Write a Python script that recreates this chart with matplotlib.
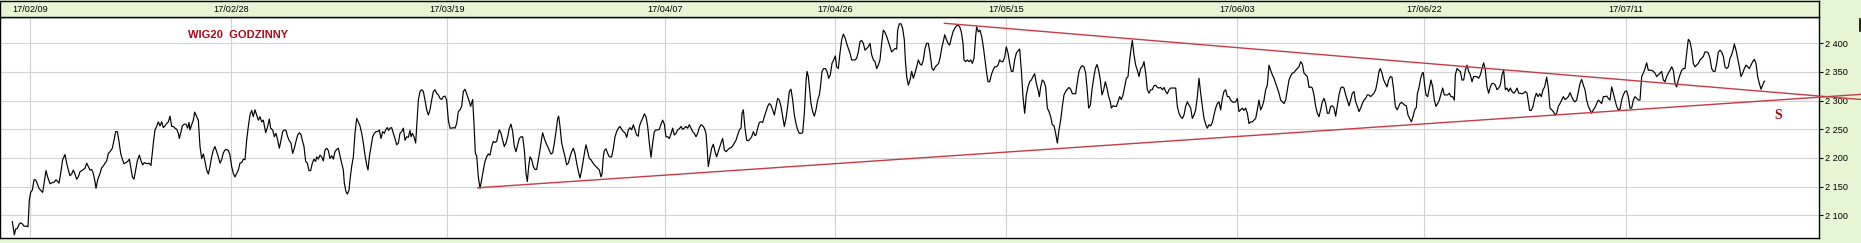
import numpy as np
import matplotlib
matplotlib.use("Agg")
import matplotlib.pyplot as plt
from matplotlib.ticker import FuncFormatter, FixedLocator
from matplotlib.lines import Line2D

plt.rcParams['font.family'] = ['Liberation Sans', 'DejaVu Sans']

# ---------------- data (time index = trading-hour position, price) ----------------
feb_mar = [(37,2089),(43,2066),(47,2076),(52,2077),(58,2085),(62,2087),(67,2085),(72,2081),(80,2081),(84,2080),
 (88,2127),(92,2140),(97,2144),(102,2162),(107,2162),(112,2155),(117,2147),(123,2143),(128,2140),(133,2159),
 (138,2178),(143,2167),(150,2155),(157,2157),(163,2158),(168,2162),(173,2159),(177,2156),(182,2173),(188,2197),
 (195,2206),(200,2191),(205,2179),(210,2169),(215,2172),(220,2179),(225,2172),(230,2163),(235,2167),(240,2176),
 (248,2179),(255,2182),(260,2191),(265,2185),(270,2179),(275,2180),(280,2173),(285,2159),(288,2147),(293,2162),
 (300,2173),(305,2183),(310,2186),(315,2191),(320,2195),(325,2208),(330,2211),(337,2217),(342,2231),(347,2246),
 (352,2246),(357,2229),(362,2208),(367,2198),(372,2190),(378,2192),(383,2194),(388,2198),(392,2185),(397,2167),
 (402,2163),(407,2179),(412,2195),(418,2205),(423,2195),(428,2188),(433,2192),(440,2190),(447,2191),(453,2187),
 (460,2226),(465,2249),(470,2255),(475,2263),(480,2256),(485,2263),(490,2253),(495,2256),(500,2260),(505,2263),
 (510,2273),(515,2255),(520,2255),(525,2252),(530,2250),(535,2243),(538,2234),(542,2243),(547,2256),(553,2259),
 (558,2259),(563,2252),(567,2262),(570,2249),(575,2258),(580,2266),(584,2280),(590,2272),(595,2266),(600,2220),
 (605,2199),(610,2207),(615,2194),(620,2179),(625,2172),(630,2185),(635,2202),(640,2214),(645,2220),(650,2211),
 (655,2202),(660,2191),(665,2197),(670,2209),(675,2214),(680,2215),(685,2213),(690,2205),(695,2185),(700,2173),
 (705,2167),(710,2173),(715,2179),(720,2191),(725,2192),(730,2198),(735,2197),(740,2231),(745,2255),(750,2275),
 (755,2283),(760,2272),(765,2284),(770,2275),(775,2266),(780,2272),(785,2263),(790,2266),(797,2244),(803,2255),
 (808,2268),(812,2252),(818,2249),(823,2237),(828,2243),(833,2231),(838,2217),(843,2231),(848,2246),(853,2249),
 (858,2248),(863,2237),(868,2230),(873,2226),(878,2208),(883,2217),(888,2229),(893,2240),(898,2244),(903,2241),
 (907,2231),(912,2220),(917,2194),(922,2191),(927,2178),(932,2178),(937,2191),(942,2198),(947,2194),(950,2202),
 (955,2198),(960,2205),(965,2202),(970,2195),(975,2214),(980,2217),(985,2213),(990,2199),(995,2204),(1000,2198),
 (1005,2211),(1010,2215),(1015,2217),(1020,2204),(1025,2191),(1030,2179),(1033,2156),(1038,2141),(1042,2137),(1047,2144),
 (1050,2162),(1055,2185),(1060,2202),(1065,2243),(1070,2269),(1075,2263),(1080,2256),(1085,2243),(1090,2226),(1095,2205),
 (1100,2188),(1104,2179),(1108,2202),(1113,2220),(1118,2237),(1123,2243),(1128,2246),(1133,2246),(1138,2249),(1143,2234),
 (1148,2246),(1153,2243),(1157,2249),(1162,2253),(1166,2248),(1170,2252),(1175,2253),(1180,2243),(1185,2234),(1190,2223),
 (1195,2226),(1200,2243),(1205,2246),(1210,2252),(1215,2231),(1220,2237),(1225,2236),(1230,2248),(1233,2237),(1237,2243),
 (1242,2237),(1247,2226),(1250,2255),(1255,2301),(1260,2316),(1265,2319),(1270,2316),(1275,2301),(1280,2284),(1285,2275),
 (1290,2284),(1295,2301),(1300,2316),(1305,2319),(1310,2313),(1315,2310),(1320,2304),(1325,2302),(1330,2307),(1335,2308),
 (1340,2301),(1345,2266),(1350,2252),(1355,2252),(1360,2253),(1365,2252),(1370,2260),(1375,2281),(1380,2284),(1385,2290),
 (1390,2316),(1395,2320)]

mar_may = [(1403,2307),(1408,2298),(1412,2290),(1418,2302),(1422,2260),(1426,2208),(1430,2204),(1435,2167),(1440,2147),
 (1445,2162),(1450,2179),(1455,2194),(1460,2202),(1465,2207),(1470,2205),(1475,2220),(1480,2229),(1485,2227),(1490,2229),
 (1495,2243),(1498,2249),(1503,2243),(1508,2231),(1513,2220),(1518,2226),(1523,2237),(1528,2252),(1533,2259),(1538,2246),
 (1543,2220),(1548,2211),(1553,2223),(1558,2234),(1563,2237),(1568,2237),(1573,2214),(1578,2173),(1582,2159),(1586,2185),
 (1590,2202),(1595,2197),(1600,2185),(1605,2180),(1610,2180),(1615,2197),(1620,2214),(1625,2234),(1628,2244),(1633,2234),
 (1638,2226),(1643,2220),(1648,2213),(1653,2207),(1658,2209),(1663,2226),(1668,2246),(1673,2269),(1676,2273),(1680,2255),
 (1685,2226),(1690,2214),(1695,2202),(1700,2188),(1705,2191),(1710,2202),(1715,2211),(1720,2217),(1725,2208),(1730,2191),
 (1736,2174),(1740,2165),(1745,2179),(1750,2197),(1755,2214),(1758,2223),(1763,2211),(1768,2199),(1773,2197),(1778,2192),
 (1783,2188),(1788,2185),(1793,2182),(1798,2179),(1803,2167),(1806,2172),(1810,2202),(1813,2213),(1818,2216),(1823,2208),
 (1828,2202),(1835,2202),(1840,2217),(1845,2237),(1850,2246),(1855,2252),(1860,2255),(1865,2250),(1870,2246),(1875,2244),
 (1880,2236),(1885,2249),(1890,2253),(1895,2249),(1900,2258),(1905,2249),(1910,2240),(1915,2238),(1918,2255),(1923,2263),
 (1928,2269),(1933,2277),(1938,2272),(1943,2255),(1948,2226),(1953,2201),(1958,2226),(1963,2246),(1968,2249),(1973,2249),
 (1978,2250),(1983,2259),(1988,2266),(1993,2259),(1998,2237),(2003,2237),(2008,2234),(2013,2242),(2018,2252),(2023,2240),
 (2028,2243),(2033,2249),(2038,2251),(2043,2255),(2048,2250),(2053,2252),(2058,2255),(2063,2252),(2068,2258),(2073,2252),
 (2078,2246),(2083,2243),(2088,2237),(2093,2243),(2098,2253),(2103,2258),(2108,2256),(2113,2252),(2118,2243),(2121,2220),
 (2125,2185),(2130,2202),(2135,2217),(2140,2224),(2145,2211),(2150,2202),(2153,2208),(2158,2217),(2163,2226),(2168,2234),
 (2173,2214),(2178,2211),(2183,2214),(2188,2217),(2193,2218),(2198,2221),(2203,2226),(2208,2231),(2213,2240),(2218,2249),
 (2223,2252),(2226,2278),(2230,2284),(2235,2252),(2240,2231),(2245,2230),(2250,2233),(2255,2237),(2260,2246),(2265,2239),
 (2268,2240),(2273,2252),(2278,2262),(2283,2263),(2288,2262),(2293,2272),(2298,2281),(2303,2290),(2308,2295),(2313,2292),
 (2318,2284),(2323,2275),(2328,2290),(2333,2304),(2338,2301),(2343,2290),(2348,2272),(2353,2255),(2358,2269),(2363,2290),
 (2368,2316),(2373,2320),(2378,2301),(2383,2275),(2388,2260),(2393,2249),(2398,2243),(2403,2243),(2408,2244),(2413,2278),
 (2418,2333),(2421,2351),(2425,2342),(2428,2324),(2433,2295),(2438,2281),(2443,2273),(2448,2284),(2453,2301),(2458,2310),
 (2461,2322),(2466,2351),(2471,2356),(2476,2356),(2481,2351),(2486,2339),(2491,2345),(2496,2365),(2501,2371),(2506,2378),
 (2510,2359),(2515,2356),(2520,2383),(2525,2406),(2530,2416),(2535,2410),(2540,2400),(2545,2391),(2550,2383),(2555,2371),
 (2560,2371),(2565,2371),(2570,2374),(2575,2385),(2580,2403),(2585,2405),(2590,2400),(2595,2388),(2600,2391),(2605,2394),
 (2610,2400),(2615,2380),(2620,2371),(2625,2368),(2630,2356),(2635,2362),(2640,2371),(2645,2400),(2650,2423),(2655,2419),
 (2660,2412),(2665,2403),(2670,2394),(2675,2385),(2680,2388),(2685,2391),(2690,2390),(2693,2423),(2698,2434),(2703,2434),
 (2708,2426),(2713,2406),(2716,2371),(2720,2342),(2725,2327),(2730,2336),(2735,2351),(2740,2339),(2745,2348),(2750,2359),
 (2755,2371),(2760,2364),(2765,2362),(2770,2371),(2775,2391),(2780,2400),(2785,2400),(2790,2383),(2796,2356)]

may_jun = [(2801,2353),(2806,2359),(2811,2362),(2816,2365),(2821,2377),(2826,2394),(2831,2406),(2834,2415),(2839,2407),
 (2844,2400),(2849,2397),(2854,2409),(2859,2420),(2864,2426),(2869,2430),(2874,2432),(2879,2429),(2884,2420),(2889,2400),
 (2892,2371),(2897,2368),(2902,2371),(2907,2368),(2912,2371),(2917,2365),(2922,2374),(2927,2412),(2930,2429),(2935,2420),
 (2940,2423),(2945,2412),(2950,2394),(2955,2371),(2960,2348),(2964,2333),(2969,2333),(2974,2345),(2979,2353),(2984,2359),
 (2989,2359),(2994,2362),(2999,2371),(3004,2368),(3009,2368),(3014,2376),(3019,2394),(3024,2383),(3029,2365),(3034,2351),
 (3039,2351),(3044,2371),(3049,2383),(3054,2387),(3059,2390),(3064,2353),(3069,2307),(3074,2278),(3079,2310),(3084,2324),
 (3089,2333),(3094,2336),(3099,2342),(3104,2347),(3109,2330),(3114,2319),(3118,2307),(3122,2324),(3127,2336),(3132,2333),
 (3137,2324),(3142,2287),(3147,2281),(3152,2272),(3157,2258),(3162,2256),(3167,2243),(3172,2226),(3177,2249),(3182,2266),
 (3187,2290),(3192,2310),(3197,2316),(3202,2320),(3207,2323),(3212,2320),(3217,2312),(3222,2312),(3227,2312),(3232,2333),
 (3237,2351),(3242,2358),(3247,2361),(3252,2359),(3257,2348),(3262,2316),(3266,2287),(3271,2292),(3276,2319),(3281,2339),
 (3286,2356),(3291,2363),(3296,2353),(3301,2336),(3306,2310),(3311,2319),(3316,2333),(3321,2322),(3326,2307),(3331,2298),
 (3334,2287),(3339,2291),(3344,2290),(3349,2290),(3354,2298),(3359,2307),(3364,2302),(3369,2310),(3374,2324),(3379,2339),
 (3384,2342),(3389,2371),(3394,2394),(3397,2405),(3402,2380),(3407,2362),(3412,2353),(3417,2342),(3422,2356),(3427,2359),
 (3432,2368),(3437,2348),(3442,2319),(3447,2313),(3452,2319),(3457,2319),(3462,2326),(3467,2327),(3472,2323),(3477,2322),
 (3482,2323),(3487,2319),(3492,2323),(3497,2316),(3502,2312),(3507,2319),(3512,2322),(3517,2322),(3522,2322),(3527,2322),
 (3532,2290),(3537,2278),(3542,2272),(3547,2269),(3552,2275),(3557,2290),(3562,2298),(3567,2292),(3572,2287),(3577,2269),
 (3582,2275),(3587,2284),(3592,2307),(3597,2339),(3602,2313),(3607,2290),(3612,2269),(3617,2259),(3622,2252),(3627,2258),
 (3632,2256),(3637,2262),(3642,2275),(3647,2287),(3652,2295),(3657,2298),(3662,2284),(3667,2304),(3672,2316),(3677,2319),
 (3682,2307),(3687,2307),(3692,2301),(3697,2298),(3702,2297),(3707,2298),(3712,2304),(3717,2281),(3722,2284),(3727,2287),
 (3732,2283),(3737,2287),(3742,2278),(3747,2260),(3752,2263),(3757,2263),(3762,2266),(3767,2269),(3772,2284),(3777,2301),
 (3782,2284),(3787,2290),(3792,2301),(3797,2319),(3802,2327),(3807,2362),(3812,2353),(3817,2345),(3822,2339),(3827,2330),
 (3832,2322),(3837,2313),(3842,2301),(3847,2298),(3852,2295),(3857,2301),(3862,2319),(3867,2336),(3872,2343),(3877,2348),
 (3882,2349),(3887,2353),(3892,2356),(3897,2359),(3902,2368),(3907,2364),(3912,2348),(3917,2345),(3922,2342),(3927,2323),
 (3932,2324),(3937,2322),(3942,2310),(3947,2290),(3952,2278),(3957,2272),(3962,2284),(3967,2298),(3972,2304),(3977,2295),
 (3982,2278),(3987,2278),(3992,2290),(3997,2291),(4002,2287),(4007,2273),(4012,2292),(4017,2310),(4022,2322),(4027,2324),
 (4032,2322),(4037,2310),(4042,2301),(4047,2291),(4052,2301),(4057,2313),(4062,2316),(4067,2298),(4072,2290),(4077,2281),
 (4082,2287),(4087,2295),(4092,2301),(4097,2304),(4102,2310),(4107,2310),(4112,2307),(4117,2310),(4122,2313),(4127,2319),
 (4132,2333),(4137,2351),(4141,2356),(4146,2348),(4151,2336),(4156,2330),(4161,2324),(4166,2336),(4171,2342),(4176,2341),
 (4181,2319),(4186,2290),(4191,2284),(4194,2287)]

jun_jul = [(4199,2294),(4204,2297),(4209,2295),(4214,2292),(4219,2291),(4224,2275),(4229,2269),(4234,2263),(4239,2272),
 (4244,2284),(4249,2288),(4252,2312),(4257,2323),(4262,2339),(4267,2348),(4270,2349),(4274,2327),(4278,2310),(4283,2307),
 (4288,2322),(4293,2336),(4298,2324),(4303,2301),(4308,2290),(4313,2295),(4318,2301),(4323,2312),(4328,2322),(4333,2310),
 (4338,2310),(4343,2310),(4348,2313),(4353,2307),(4358,2307),(4363,2301),(4366,2345),(4371,2356),(4376,2353),(4381,2351),
 (4386,2336),(4391,2336),(4396,2353),(4401,2362),(4406,2351),(4411,2345),(4416,2333),(4421,2342),(4426,2342),(4431,2342),
 (4436,2339),(4441,2345),(4446,2356),(4451,2366),(4456,2353),(4461,2324),(4466,2313),(4471,2324),(4476,2330),(4481,2330),
 (4486,2327),(4491,2319),(4496,2322),(4501,2327),(4506,2345),(4511,2353),(4516,2319),(4521,2322),(4526,2316),(4531,2322),
 (4536,2316),(4541,2313),(4546,2316),(4551,2322),(4556,2313),(4561,2313),(4566,2312),(4571,2313),(4576,2316),(4581,2313),
 (4586,2295),(4589,2283),(4594,2283),(4599,2290),(4604,2304),(4609,2313),(4614,2307),(4619,2312),(4624,2307),(4629,2319),
 (4634,2324),(4640,2341),(4645,2322),(4650,2287),(4655,2284),(4660,2281),(4665,2275),(4670,2278),(4675,2290),(4680,2295),
 (4685,2301),(4690,2307),(4695,2302),(4700,2304),(4705,2307),(4710,2314),(4715,2307),(4720,2301),(4725,2298),(4730,2301),
 (4735,2316),(4740,2330),(4745,2337),(4750,2327),(4755,2319),(4760,2301),(4765,2290),(4770,2284),(4775,2278),(4780,2284),
 (4785,2288),(4790,2295),(4795,2301),(4800,2298),(4805,2295),(4810,2307),(4815,2307),(4820,2308),(4825,2304),(4830,2301),
 (4835,2324),(4840,2313),(4845,2301),(4850,2290),(4855,2284),(4860,2285),(4865,2301),(4870,2310),(4875,2316),(4880,2317),
 (4885,2307),(4890,2287),(4895,2287),(4900,2301),(4905,2307),(4910,2304),(4915,2301),(4920,2301),(4925,2342),(4930,2348),
 (4935,2356),(4940,2366),(4945,2353),(4950,2353),(4955,2353),(4960,2351),(4965,2348),(4970,2342),(4975,2345),(4980,2348),
 (4985,2351),(4990,2336),(4995,2333),(5000,2342),(5005,2348),(5010,2353),(5015,2359),(5020,2353),(5025,2330),(5030,2324),
 (5035,2336),(5040,2345),(5045,2353),(5050,2356),(5055,2356),(5060,2383),(5065,2407),(5070,2403),(5075,2388),(5080,2365),
 (5085,2359),(5090,2362),(5095,2365),(5100,2371),(5105,2374),(5110,2377),(5115,2385),(5120,2385),(5125,2383),(5130,2374),
 (5135,2356),(5140,2351),(5145,2351),(5150,2365),(5155,2385),(5160,2388),(5165,2385),(5170,2377),(5175,2359),(5180,2356),
 (5185,2359),(5190,2374),(5195,2380),(5200,2390),(5203,2399),(5208,2388),(5213,2374),(5218,2359),(5223,2342),(5228,2348),
 (5233,2356),(5238,2362),(5243,2359),(5248,2356),(5253,2362),(5258,2368),(5263,2372),(5268,2365),(5273,2342),(5278,2330),
 (5283,2320),(5288,2327),(5292,2333),(5294,2334)]

# date labels at their trading-hour positions
date_pos = [89, 694, 1342, 1996, 2506, 3018, 3712, 4273, 4879]
date_labels = ['17/02/09', '17/02/28', '17/03/19', '17/04/07', '17/04/26',
               '17/05/15', '17/06/03', '17/06/22', '17/07/11']
price_ticks = [2100, 2150, 2200, 2250, 2300, 2350, 2400]

# trend lines (anchor points: time index, price)
support_t = [1433, 5583]
support_p = [2148, 2311]
resist_t = [2833, 5583]
resist_p = [2435, 2302]

title = 'WIG20  GODZINNY'
signal = 'S'

# ---------------- style ----------------
W, H = 1861, 243
BG = '#e6f6d4'
RED = '#c83a46'
TXT_RED = '#a80a1c'

fig = plt.figure(figsize=(W / 100, H / 100), dpi=100, facecolor=BG)

ax_l, ax_r = 0, 1819
ax_top, ax_bot = 17.3, 238.3
ax = fig.add_axes([ax_l / W, (H - ax_bot) / H, (ax_r - ax_l) / W, (ax_bot - ax_top) / H])
ax.set_facecolor('white')

segments = (feb_mar, mar_may, may_jun, jun_jul)
t = np.array([a for seg in segments for a, _ in seg])
p = np.array([b for seg in segments for _, b in seg])

ax.plot(t, p, color='black', lw=0.85, zorder=3)
ax.plot(support_t, support_p, color=RED, lw=1.0, clip_on=False, zorder=4)
ax.plot(resist_t, resist_p, color=RED, lw=1.0, clip_on=False, zorder=4)

ax.set_xlim(0, 3 * ax_r)
ax.set_ylim(2059.9, 2445.4)

ax.xaxis.set_major_locator(FixedLocator(date_pos))
ax.tick_params(axis='x', length=0, labelbottom=False)
ax.yaxis.tick_right()
ax.yaxis.set_major_locator(FixedLocator(price_ticks))
ax.yaxis.set_major_formatter(FuncFormatter(lambda v, _: f"{int(v):,}".replace(',', ' ')))
ax.tick_params(axis='y', direction='out', length=3, width=0.8, pad=1.5,
               labelsize=6.6, colors='black')
ax.grid(True, color='#d2d2d2', lw=0.8, zorder=0)
ax.set_axisbelow(True)
for s in ax.spines.values():
    s.set_color('black')
    s.set_linewidth(1.0)

ax.text(565, 2414.5, title, color=TXT_RED, fontsize=8.0, fontweight='bold', ha='left', va='center',
        family=['Liberation Sans', 'DejaVu Sans'])
ax.text(5334, 2274, signal, color=TXT_RED, fontsize=10, fontweight='bold', ha='center',
        va='center', family=['Liberation Serif', 'DejaVu Serif'])

# top date strip
strip_top = 1.0
sx = fig.add_axes([ax_l / W, (H - ax_top) / H, (1818.5 - ax_l) / W, (ax_top - strip_top) / H])
sx.set_facecolor(BG)
sx.set_xlim(ax.get_xlim())
sx.set_ylim(0, 1)
sx.set_xticks([])
sx.set_yticks([])
for s in sx.spines.values():
    s.set_color('black')
    s.set_linewidth(1.0)
for pos, lab in zip(date_pos, date_labels):
    sx.text(pos, 0.5, lab, ha='center', va='center', fontsize=6.6, color='black')

# small dark mark at right edge
fig.add_artist(Line2D([1860.3 / W, 1860.3 / W], [1 - 19 / H, 1 - 31 / H],
                      transform=fig.transFigure, color='black', lw=1.2))

fig.savefig('out.png', dpi=100, facecolor=BG)
